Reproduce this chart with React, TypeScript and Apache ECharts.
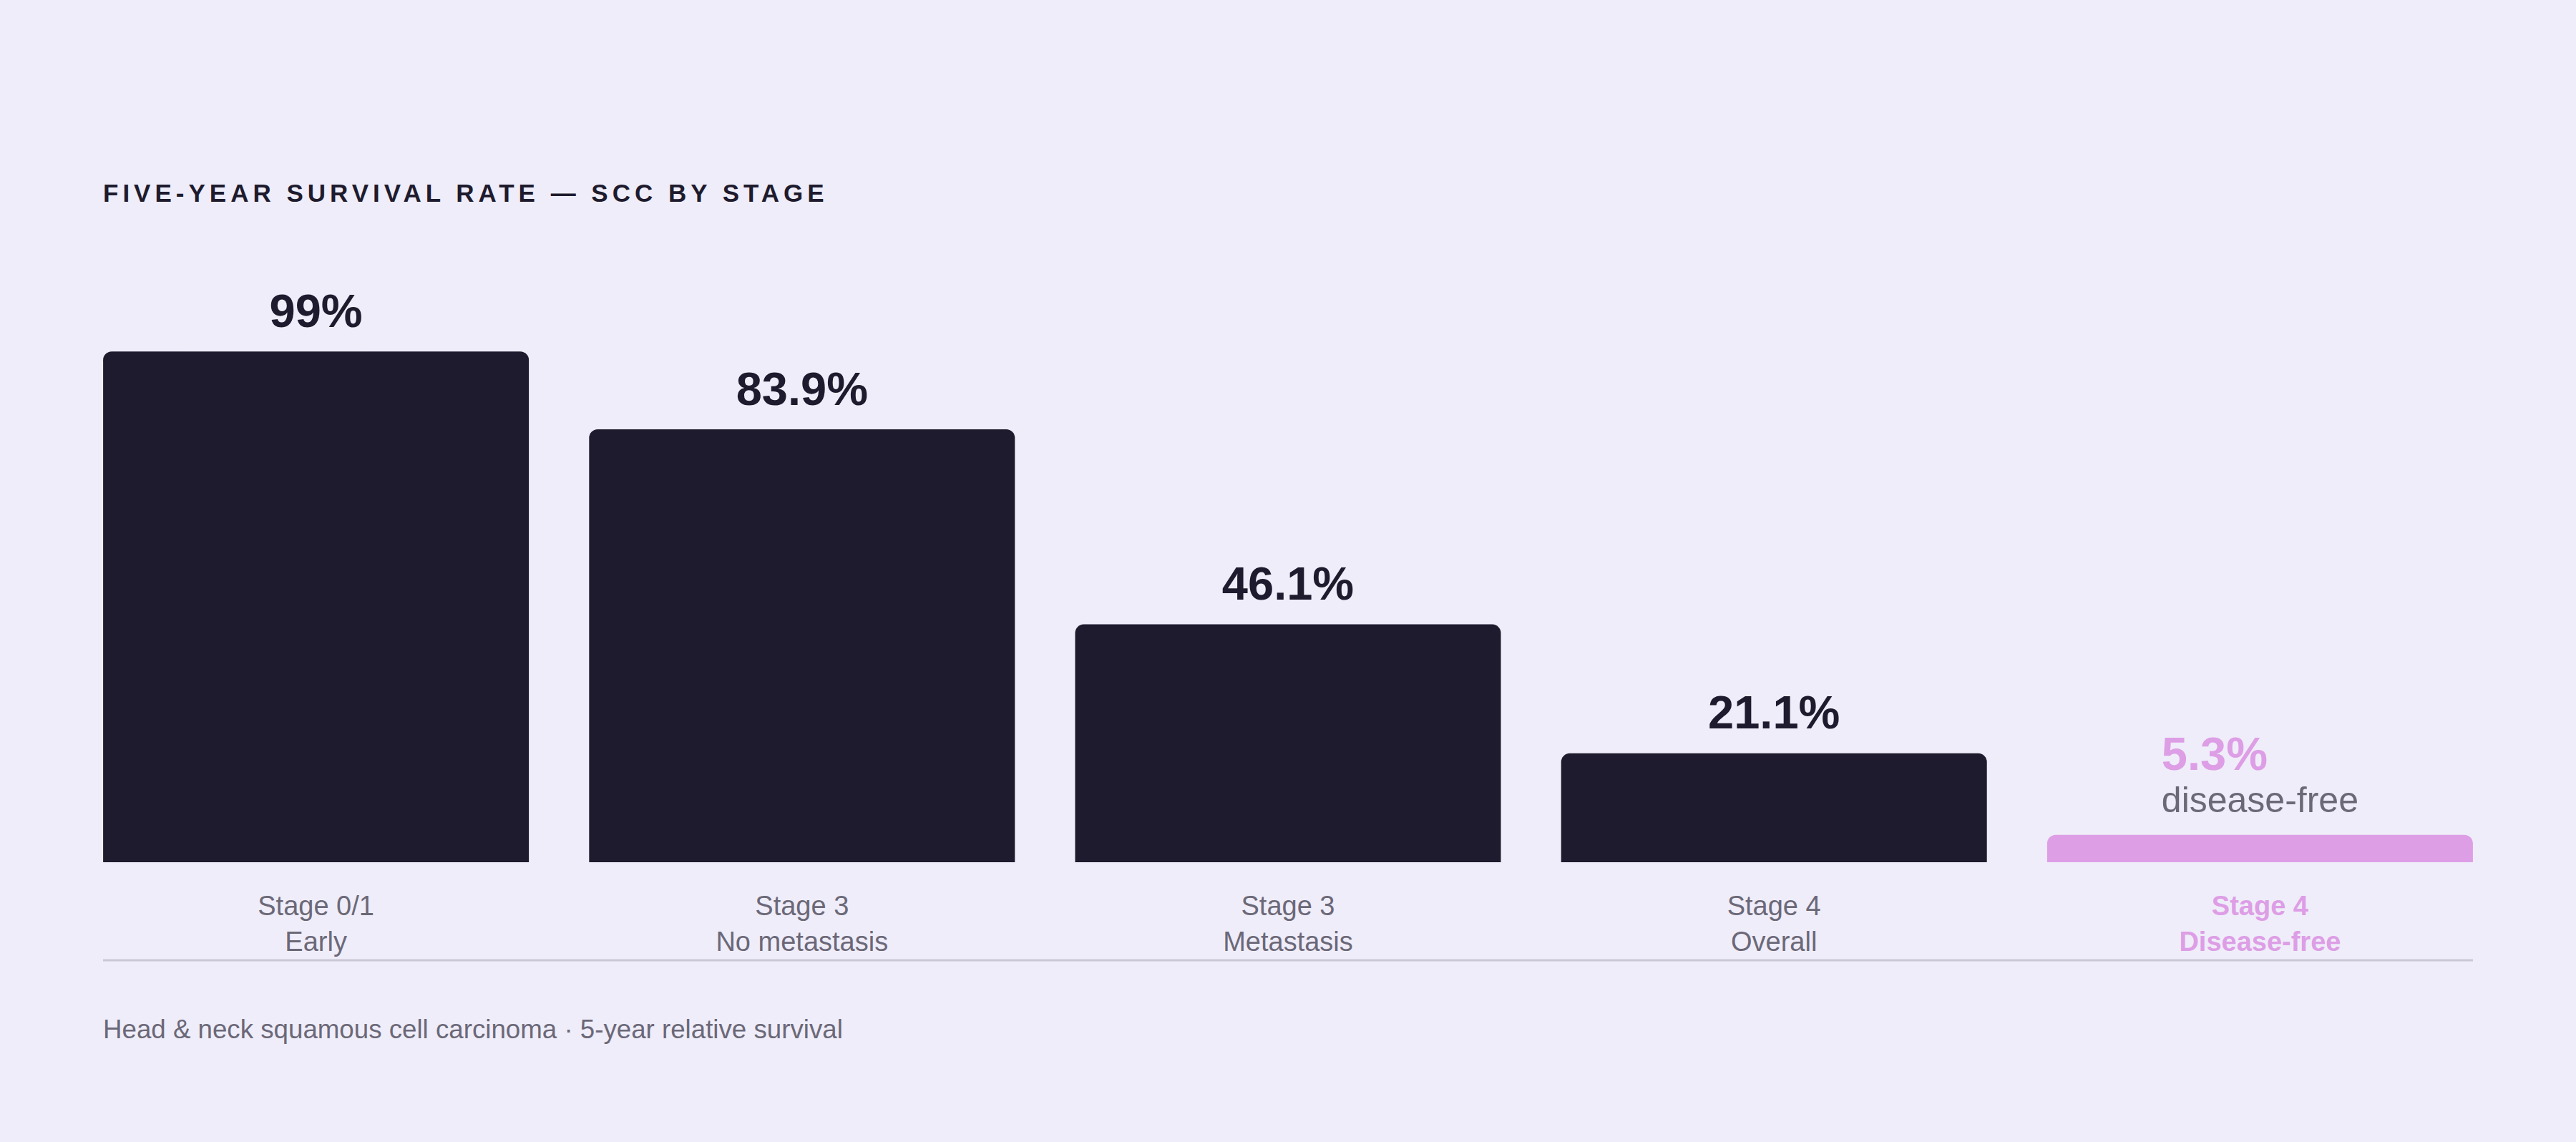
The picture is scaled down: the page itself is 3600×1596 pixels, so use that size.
import React, { useEffect, useRef } from "react";
import * as echarts from "echarts";

// chart data
const stages = ["Stage 0/1", "Stage 3", "Stage 3", "Stage 4", "Stage 4"];
const stageNotes = ["Early", "No metastasis", "Metastasis", "Overall", "Disease-free"];
const survival = [99, 83.9, 46.1, 21.1, 5.3]; // five-year survival, %
const highlightIndex = 4;
const highlightNote = "disease-free";

const titleText = "FIVE-YEAR SURVIVAL RATE — SCC BY STAGE";
const footnote = "Head & neck squamous cell carcinoma · 5-year relative survival";

const BG = "#efedf9";
const DARK = "#1e1b2e";
const PINK = "#dd9ee6";
const GREY = "#6b6878";
const FONT = "'Liberation Sans', Arial, Helvetica, sans-serif";

const App: React.FC = () => {
  const chartRef = useRef<HTMLDivElement>(null);

  useEffect(() => {
    if (!chartRef.current) return;
    const chart = echarts.init(chartRef.current, undefined, { renderer: "svg" });

    const barData = survival.map((v, i) => {
      if (i !== highlightIndex) return v;
      return {
        value: v,
        itemStyle: { color: PINK },
        label: {
          formatter: `{v|${v}%}\n{n|${highlightNote}}`,
          rich: {
            v: { fontSize: 65, fontWeight: "bold", color: PINK, lineHeight: 72, align: "left", fontFamily: FONT },
            n: { fontSize: 50, fontWeight: "normal", color: GREY, lineHeight: 56, align: "left", fontFamily: FONT },
          },
        },
      };
    });

    chart.setOption({
      animation: false,
      backgroundColor: BG,
      grid: { left: 102, right: 102, top: 484, bottom: 391 },
      xAxis: {
        type: "category",
        data: stages.map((s, i) => ({
          value: `${s}\n${stageNotes[i]}`,
          textStyle: i === highlightIndex ? { color: PINK, fontWeight: "bold" } : undefined,
        })),
        axisLine: { show: false },
        axisTick: { show: false },
        axisLabel: { color: GREY, fontSize: 38, lineHeight: 50, margin: 36, fontFamily: FONT },
      },
      yAxis: { type: "value", min: 0, max: 100, show: false },
      series: [
        {
          type: "bar",
          data: barData,
          barWidth: 595,
          itemStyle: { color: DARK, borderRadius: [12, 12, 0, 0] },
          label: {
            show: true,
            position: "top",
            distance: 21,
            fontSize: 65,
            lineHeight: 72,
            fontWeight: "bold",
            color: DARK,
            fontFamily: FONT,
            formatter: (p: any) => `${p.value}%`,
          },
        },
      ],
      graphic: [
        {
          type: "line",
          shape: { x1: 144, y1: 1342, x2: 3456, y2: 1342 },
          style: { stroke: "#cbc7d6", lineWidth: 3 },
        },
        {
          type: "text",
          x: 144,
          y: 1438,
          style: {
            text: footnote,
            fill: GREY,
            font: `36.7px ${FONT}`,
            verticalAlign: "middle",
          },
        },
      ],
    });

    return () => chart.dispose();
  }, []);

  return (
    <div style={{ position: "fixed", left: 0, top: 0, width: 3600, height: 1596, background: BG }}>
      <div ref={chartRef} style={{ width: 3600, height: 1596 }} />
      <div
        style={{
          position: "absolute",
          left: 144,
          top: 252,
          fontFamily: FONT,
          fontSize: 35,
          lineHeight: "35px",
          fontWeight: "bold",
          letterSpacing: "6px",
          color: DARK,
          whiteSpace: "nowrap",
        }}
      >
        {titleText}
      </div>
    </div>
  );
};

export default App;
